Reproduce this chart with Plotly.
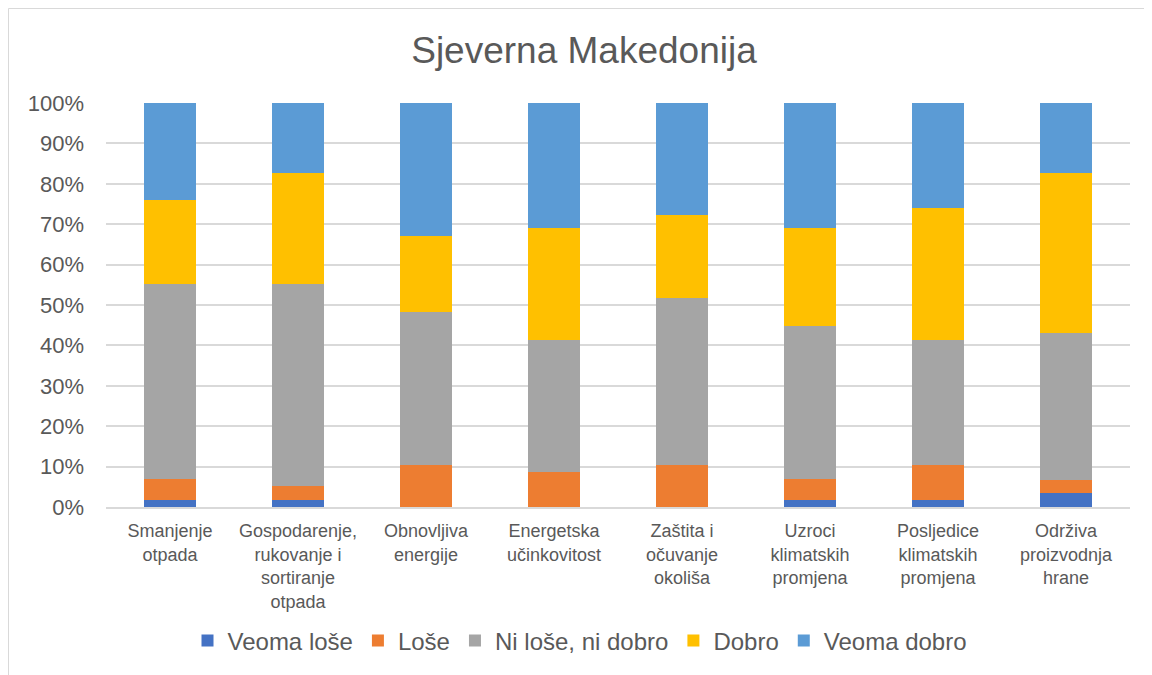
import plotly.graph_objects as go

categories = [
    "Smanjenje<br>otpada",
    "Gospodarenje,<br>rukovanje i<br>sortiranje<br>otpada",
    "Obnovljiva<br>energije",
    "Energetska<br>učinkovitost",
    "Zaštita i<br>očuvanje<br>okoliša",
    "Uzroci<br>klimatskih<br>promjena",
    "Posljedice<br>klimatskih<br>promjena",
    "Održiva<br>proizvodnja<br>hrane",
]

veoma_lose = [1.7, 1.7, 0.0, 0.0, 0.0, 1.7, 1.7, 3.4]
lose = [5.2, 3.4, 10.3, 8.6, 10.3, 5.2, 8.6, 3.4]
ni_lose_ni_dobro = [48.3, 50.0, 37.9, 32.8, 41.4, 37.9, 31.0, 36.2]
dobro = [20.7, 27.6, 19.0, 27.6, 20.7, 24.1, 32.8, 39.7]
veoma_dobro = [24.1, 17.2, 32.8, 31.0, 27.6, 31.0, 25.9, 17.2]

series = [
    ("Veoma loše", veoma_lose, "#4472C4"),
    ("Loše", lose, "#ED7D31"),
    ("Ni loše, ni dobro", ni_lose_ni_dobro, "#A5A5A5"),
    ("Dobro", dobro, "#FFC000"),
    ("Veoma dobro", veoma_dobro, "#5B9BD5"),
]

fig = go.Figure()
for name, vals, color in series:
    fig.add_trace(go.Bar(
        name=name, x=categories, y=vals,
        marker=dict(color=color, line=dict(width=0)),
    ))

L, T, W, H = 98, 95, 1024, 404
fig.update_layout(
    barmode="stack",
    barnorm="percent",
    bargap=0.6,
    width=1152, height=675,
    paper_bgcolor="white", plot_bgcolor="white",
    margin=dict(l=L, r=1152 - L - W, t=T, b=675 - T - H),
    font=dict(family="Liberation Sans, Arial, sans-serif", color="#595959"),
    title=dict(text="Sjeverna Makedonija", x=0.5, xanchor="center",
               y=1 - 42 / 675, yanchor="middle",
               font=dict(size=37, color="#595959")),
    legend=dict(orientation="h", x=(580 - 106) / W, xanchor="center", y=-134 / H, yanchor="middle",
                font=dict(size=24, color="#595959"), traceorder="normal",
                itemwidth=30),
    showlegend=True,
)
fig.update_yaxes(
    range=[0, 100], tickvals=list(range(0, 101, 10)),
    ticktext=[f"{v}%" for v in range(0, 101, 10)],
    showgrid=True, gridcolor="#D9D9D9", gridwidth=1.5,
    zeroline=False, showline=False,
    tickfont=dict(size=22, color="#595959"), ticks="", ticklabelstandoff=21,
)
fig.update_xaxes(
    showgrid=False, showline=True, linecolor="#D9D9D9", linewidth=1.5,
    tickfont=dict(size=18, color="#595959"), ticks="", ticklabelstandoff=7,
)
fig.add_shape(type="rect", xref="paper", yref="paper",
              x0=-L / W + 0.5 / W, x1=1 + 60 / W, y0=-1.0, y1=1 + (T - 0.5) / H,
              line=dict(color="#D9D9D9", width=1), fillcolor="rgba(0,0,0,0)", layer="below")

fig.write_html("out.html")
